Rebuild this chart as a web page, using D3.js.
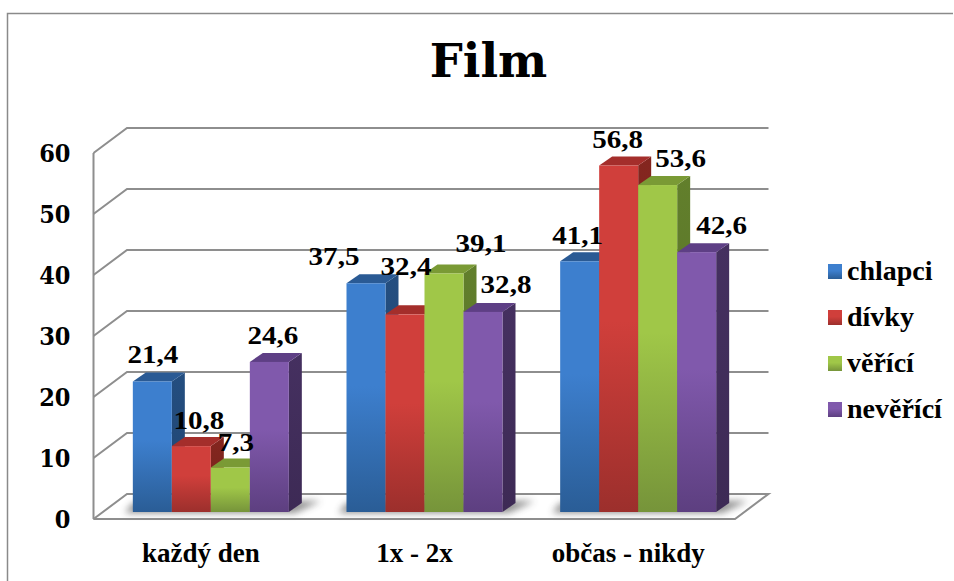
<!DOCTYPE html>
<html><head><meta charset="utf-8">
<script src="https://cdnjs.cloudflare.com/ajax/libs/d3/7.8.5/d3.min.js"></script>
<style>html,body{margin:0;padding:0;background:#fff}svg{display:block}</style></head>
<body><svg id="c" width="954" height="581"></svg>
<script>
const categories=["každý den","1x - 2x","občas - nikdy"];
const seriesNames=["chlapci","dívky","věřící","nevěřící"];
const chlapci=[21.4,37.5,41.1];
const divky=[10.8,32.4,56.8];
const verici=[7.3,39.1,53.6];
const nevercici=[24.6,32.8,42.6];
const seriesValues=[chlapci,divky,verici,nevercici];
const valueLabels=[["21,4","37,5","41,1"],["10,8","32,4","56,8"],["7,3","39,1","53,6"],["24,6","32,8","42,6"]];
const ticks=[0,10,20,30,40,50,60];

// layout and style
const labelNudges=[[[0.5,-5],[-32,-5],[-2,-4]],[[7.5,-4],[1,-26.5],[-1,-4.5]],[[5.5,-3.5],[37,-8],[23,-5]],[[3.5,-5],[23,-6],[25,-5]]];
const colors=[["#3d7fce","#2a5d96","#2a5a94","#244e80"],["#d03f3b","#9c2f2c","#a42e2b","#84261f"],["#a0c748","#76943a","#7a9a35","#627f2c"],["#8059ac","#5d3f80","#5e3f85","#453060"]];

const svg=d3.select("#c");
const defs=svg.append("defs");
colors.forEach((c,i)=>{
  const g=defs.append("linearGradient").attr("id","f"+i).attr("x1",0).attr("y1",0).attr("x2",0).attr("y2",1);
  g.append("stop").attr("offset","0").attr("stop-color",c[0]);
  g.append("stop").attr("offset","0.45").attr("stop-color",c[0]);
  g.append("stop").attr("offset","1").attr("stop-color",c[1]);
  const s=defs.append("linearGradient").attr("id","s"+i).attr("x1",0).attr("y1",0).attr("x2",0).attr("y2",1);
  s.append("stop").attr("offset","0").attr("stop-color",c[3]);
  s.append("stop").attr("offset","1").attr("stop-color",d3.color(c[3]).darker(0.35));
});
defs.append("filter").attr("id","blur").attr("x","-20%").attr("y","-100%").attr("width","140%").attr("height","300%")
  .append("feGaussianBlur").attr("stdDeviation",3.5);

const serif="'Liberation Serif',serif", wide="'DejaVu Serif',serif", cond="'DejaVu Serif Condensed','DejaVu Serif',serif";
const gridColor="#8e8e8e";
// frame
svg.append("path").attr("d","M7.5,581V13.5H953").attr("fill","none").attr("stroke","#8a8a8a").attr("stroke-width",1.5);

const y=d3.scaleLinear().domain([0,60]).range([519,153]);
const x=d3.scaleBand().domain(categories).range([104,745]);
const depthX=33.5, depthY=25;
const left=93.5,right=735;

// gridlines
ticks.forEach(t=>{
  const yy=y(t);
  svg.append("path").attr("fill","none").attr("stroke",gridColor).attr("stroke-width",2)
    .attr("d",`M${left},${yy}L${left+depthX},${yy-depthY}H${right+depthX}`+(t===0?`L${right},${yy}H${left}`:""));
});
svg.append("line").attr("x1",left).attr("x2",left).attr("y1",y(60)).attr("y2",y(0)).attr("stroke",gridColor).attr("stroke-width",2);

// tick labels
svg.append("g").selectAll("text").data(ticks).join("text")
  .attr("x",70.5).attr("y",d=>y(d)+8.5).attr("text-anchor","end")
  .attr("font-family",cond).attr("font-weight","bold").attr("font-size",25).attr("fill","#000").text(d=>d);

// bars
const barW=39, bd=13, bh=9, floorShiftY=7;
const yBar=v=>y(v)-floorShiftY;
const barX=(c,s)=>x(c)+x.bandwidth()/2-2*barW+s*barW;
// floor shadows
categories.forEach(c=>{
  const x0=barX(c,0),x1=barX(c,4);
  svg.append("path").attr("d",`M${x0-8},513H${x1+6}L${x1+32},${501}H${x1+13}L${x0},${503}Z`)
    .attr("fill","#444").attr("opacity",0.6).attr("filter","url(#blur)");
});
svg.append("path").attr("d",`M${left},519H${right}`).attr("stroke",gridColor).attr("stroke-width",2);

categories.forEach((c,ci)=>{
  seriesNames.forEach((n,si)=>{
    const v=seriesValues[si][ci], X=barX(c,si), T=yBar(v), B=yBar(0), col=colors[si];
    const g=svg.append("g");
    g.append("path").attr("d",`M${X+barW},${T}L${X+barW+bd},${T-bh}V${B-bh}L${X+barW},${B}Z`).attr("fill",`url(#s${si})`);
    g.append("path").attr("d",`M${X},${T}L${X+bd},${T-bh}H${X+barW+bd}L${X+barW},${T}Z`).attr("fill",col[2]);
    g.append("rect").attr("x",X).attr("y",T).attr("width",barW).attr("height",B-T).attr("fill",`url(#f${si})`);
  });
});
// value labels
categories.forEach((c,ci)=>{
  seriesNames.forEach((n,si)=>{
    const v=seriesValues[si][ci], X=barX(c,si), T=yBar(v), nd=labelNudges[si][ci];
    svg.append("text").attr("transform",`translate(${X+barW/2+nd[0]},${T-bh-4+nd[1]}) scale(1.14,1)`).attr("text-anchor","middle")
      .attr("font-family",serif).attr("font-weight","bold").attr("font-size",25.5).attr("fill","#000")
      .text(valueLabels[si][ci]);
  });
});
// category labels
svg.append("g").selectAll("text").data(categories).join("text")
  .attr("x",d=>x(d)+x.bandwidth()/2-10).attr("y",562).attr("text-anchor","middle")
  .attr("font-family",serif).attr("font-weight","bold").attr("font-size",27).attr("fill","#000").text(d=>d);
// title
svg.append("text").attr("x",488.5).attr("y",77).attr("text-anchor","middle")
  .attr("font-family",wide).attr("font-weight","bold").attr("font-size",46.5).attr("fill","#000").text("Film");
// legend
const ly=d3.scalePoint().domain(seriesNames).range([271.5,409.5]);
seriesNames.forEach((n,i)=>{
  svg.append("rect").attr("x",828).attr("y",ly(n)-7.5).attr("width",14).attr("height",15).attr("fill",`url(#f${i})`);
  svg.append("text").attr("x",847).attr("y",ly(n)+8).attr("font-family",serif).attr("font-weight","bold")
    .attr("font-size",28).attr("fill","#000").text(n);
});
</script></body></html>
